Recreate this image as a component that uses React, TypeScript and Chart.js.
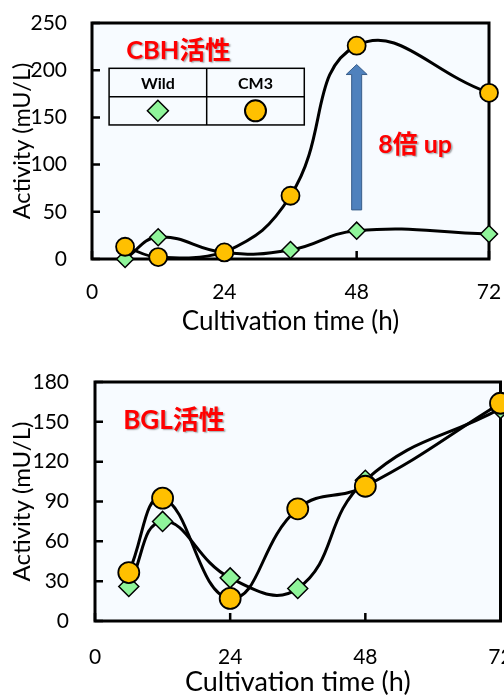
import React, { useEffect, useRef } from "react";
import { Chart, registerables } from "chart.js";

Chart.register(...registerables);

// ---- data ----
const hours = [6, 12, 24, 36, 48, 72];
const xTicks = [0, 24, 48, 72];

const cbhWild = [0, 23, 7, 9.5, 30, 26.5];
const cbhCM3 = [13, 2, 7, 67, 226, 176];
const cbhTicks = [0, 50, 100, 150, 200, 250];

const bglWild = [26, 75, 32.5, 24.5, 106, 160];
const bglCM3 = [36.5, 92.5, 17, 84.5, 101.5, 164];
const bglTicks = [0, 30, 60, 90, 120, 150, 180];

const seriesNames = ["Wild", "CM3"];
const cbhTitle = "CBH活性";
const bglTitle = "BGL活性";
const upLabel = "8倍 up";

const xTitle = "Cultivation time (h)";
const yTitle = "Activity (mU/L)";

const FONT = "Lato, 'Noto Sans CJK JP', sans-serif";
const TITLE_FONT = "Lato, 'Noto Sans CJK JP', sans-serif";
const GOLD = "#FFC000";
const GREEN = "#8FF59A";

type Layout = {
  padTop: number;
  padRight: number;
  yWidth: number;
  xHeight: number;
  yLabelPad: number;
  xLabelPad: number;
  yTitlePad: number;
  xTitlePadBottom: number;
  circleR: number;
  diamondR: number;
  tickFont: number;
  xTitleFont: number;
  yTitleFont: number;
};

function makeChart(
  canvas: HTMLCanvasElement,
  wild: number[],
  cm3: number[],
  yTicks: number[],
  L: Layout,
  annotate: (chart: any) => void
) {
  const pts = (arr: number[]) => hours.map((x, i) => ({ x, y: arr[i] }));
  const frame = {
    id: "frame",
    beforeDraw(chart: any) {
      const { ctx, chartArea: a } = chart;
      ctx.save();
      ctx.fillStyle = "#F7FBFF";
      ctx.fillRect(a.left, a.top, a.right - a.left, a.bottom - a.top);
      ctx.restore();
    },
    beforeDatasetsDraw(chart: any) {
      const { ctx, chartArea: a, scales } = chart;
      ctx.save();
      ctx.strokeStyle = "#000";
      ctx.lineWidth = 3;
      ctx.strokeRect(a.left, a.top, a.right - a.left, a.bottom - a.top);
      ctx.lineWidth = 2.5;
      ctx.beginPath();
      yTicks.forEach((v) => {
        const y = scales.y.getPixelForValue(v);
        ctx.moveTo(a.left, y);
        ctx.lineTo(a.left + 8, y);
      });
      xTicks.forEach((v) => {
        const x = scales.x.getPixelForValue(v);
        ctx.moveTo(x, a.bottom);
        ctx.lineTo(x, a.bottom - 8);
      });
      ctx.stroke();
      ctx.restore();
    },
    afterDraw(chart: any) {
      annotate(chart);
    },
  };

  return new Chart(canvas, {
    type: "line",
    data: {
      datasets: [
        {
          label: seriesNames[1],
          data: pts(cm3),
          borderColor: "#000",
          borderWidth: 3,
          tension: 0.45,
          pointStyle: "circle",
          pointRadius: L.circleR,
          pointBackgroundColor: GOLD,
          pointBorderColor: "#000",
          pointBorderWidth: 1.8,
          clip: false as any,
          order: 0,
        },
        {
          label: seriesNames[0],
          data: pts(wild),
          borderColor: "#000",
          borderWidth: 3,
          tension: 0.45,
          pointStyle: "rectRot",
          pointRadius: L.diamondR,
          pointBackgroundColor: GREEN,
          pointBorderColor: "#000",
          pointBorderWidth: 1.5,
          clip: false as any,
          order: 1,
        },
      ],
    },
    options: {
      responsive: false,
      animation: false,
      layout: { padding: { left: 0, top: L.padTop, right: L.padRight, bottom: 0 } },
      plugins: { legend: { display: false }, tooltip: { enabled: false } },
      scales: {
        x: {
          type: "linear",
          min: 0,
          max: 72,
          afterBuildTicks: (s: any) => {
            s.ticks = xTicks.map((v) => ({ value: v }));
          },
          afterFit: (s: any) => {
            s.height = L.xHeight;
            s.paddingLeft = 0;
            s.paddingRight = 0;
          },
          grid: { display: false, drawTicks: false },
          border: { display: false },
          ticks: {
            padding: L.xLabelPad,
            color: "#000",
            font: { family: FONT, size: L.tickFont },
            maxRotation: 0,
            autoSkip: false,
          },
          title: {
            display: true,
            text: xTitle,
            color: "#000",
            font: { family: FONT, size: L.xTitleFont },
            padding: { top: 0, bottom: L.xTitlePadBottom },
          },
        },
        y: {
          type: "linear",
          min: yTicks[0],
          max: yTicks[yTicks.length - 1],
          afterBuildTicks: (s: any) => {
            s.ticks = yTicks.map((v) => ({ value: v }));
          },
          afterFit: (s: any) => {
            s.width = L.yWidth;
            s.paddingTop = 0;
            s.paddingBottom = 0;
          },
          grid: { display: false, drawTicks: false },
          border: { display: false },
          ticks: {
            padding: L.yLabelPad,
            color: "#000",
            font: { family: FONT, size: L.tickFont },
            autoSkip: false,
          },
          title: {
            display: true,
            text: yTitle,
            color: "#000",
            font: { family: FONT, size: L.yTitleFont },
            padding: { top: L.yTitlePad, bottom: 0 },
          },
        },
      },
    },
    plugins: [frame],
  } as any);
}

function redText(ctx: CanvasRenderingContext2D, text: string, x: number, y: number, size: number) {
  ctx.save();
  ctx.font = `bold ${size}px ${TITLE_FONT}`;
  ctx.textAlign = "left";
  ctx.textBaseline = "middle";
  ctx.shadowColor = "rgba(0,0,0,0.35)";
  ctx.shadowOffsetX = 1.5;
  ctx.shadowOffsetY = 1.5;
  ctx.shadowBlur = 1.5;
  ctx.fillStyle = "#FF0000";
  ctx.fillText(text, x, y);
  ctx.restore();
}

// annotation anchors in data units
const cbhTitleAt = { x: 6.2, y: 221 };
const upArrow = { x: 48, from: 52, to: 206 };
const upLabelAt = { x: 51.9, y: 121 };
const tableBox = { x0: 3.1, x1: 38.5, yTop: 202, yMid: 172, yBot: 142 };
const bglTitleAt = { x: 5, y: 151 };

export default function App() {
  const ref1 = useRef<HTMLCanvasElement>(null);
  const ref2 = useRef<HTMLCanvasElement>(null);

  useEffect(() => {
    const L1: Layout = {
      padTop: 23, padRight: 15, yWidth: 92, xHeight: 81,
      yLabelPad: 25, xLabelPad: 21, yTitlePad: 8, xTitlePadBottom: 3,
      circleR: 9, diamondR: 8.5, tickFont: 21, xTitleFont: 26, yTitleFont: 23.5,
    };
    // canvas 2 is wider than the page (clipped by the wrapper) so its plot can reach the edge
    const L2: Layout = {
      padTop: 42, padRight: 15.5, yWidth: 95, xHeight: 75,
      yLabelPad: 26, xLabelPad: 24, yTitlePad: 8, xTitlePadBottom: -2,
      circleR: 10.5, diamondR: 10, tickFont: 21, xTitleFont: 27, yTitleFont: 24,
    };

    const c1 = makeChart(ref1.current!, cbhWild, cbhCM3, cbhTicks, L1, (chart: any) => {
      const { ctx, scales } = chart;
      const X = (v: number) => scales.x.getPixelForValue(v);
      const Y = (v: number) => scales.y.getPixelForValue(v);
      redText(ctx, cbhTitle, X(cbhTitleAt.x), Y(cbhTitleAt.y), 25.5);
      // arrow
      const ax = X(upArrow.x);
      const yb = Y(upArrow.from);
      const yt = Y(upArrow.to);
      const shaft = 5, head = 10.5, headH = 10;
      ctx.save();
      ctx.beginPath();
      ctx.moveTo(ax - shaft, yb);
      ctx.lineTo(ax - shaft, yt + headH);
      ctx.lineTo(ax - head, yt + headH);
      ctx.lineTo(ax, yt);
      ctx.lineTo(ax + head, yt + headH);
      ctx.lineTo(ax + shaft, yt + headH);
      ctx.lineTo(ax + shaft, yb);
      ctx.closePath();
      ctx.fillStyle = "#4F81BD";
      ctx.fill();
      ctx.strokeStyle = "#385D8A";
      ctx.lineWidth = 1;
      ctx.stroke();
      ctx.restore();
      redText(ctx, upLabel, X(upLabelAt.x), Y(upLabelAt.y), 25);
      // legend table
      const x0 = X(tableBox.x0), x1 = X(tableBox.x1);
      const xm = (x0 + x1) / 2;
      const y0 = Y(tableBox.yTop), ym = Y(tableBox.yMid), y1 = Y(tableBox.yBot);
      ctx.save();
      ctx.strokeStyle = "#000";
      ctx.lineWidth = 1.5;
      ctx.strokeRect(x0, y0, x1 - x0, y1 - y0);
      ctx.beginPath();
      ctx.moveTo(x0, ym); ctx.lineTo(x1, ym);
      ctx.moveTo(xm, y0); ctx.lineTo(xm, y1);
      ctx.stroke();
      ctx.font = `bold 16px ${FONT}`;
      ctx.fillStyle = "#000";
      ctx.textAlign = "center";
      ctx.textBaseline = "middle";
      const c1x = (x0 + xm) / 2, c2x = (xm + x1) / 2;
      ctx.fillText(seriesNames[0], c1x, (y0 + ym) / 2 + 1);
      ctx.fillText(seriesNames[1], c2x, (y0 + ym) / 2 + 1);
      const cy = (ym + y1) / 2;
      // diamond
      ctx.beginPath();
      ctx.moveTo(c1x - 10.5, cy); ctx.lineTo(c1x, cy - 10.5);
      ctx.lineTo(c1x + 10.5, cy); ctx.lineTo(c1x, cy + 10.5);
      ctx.closePath();
      ctx.fillStyle = GREEN; ctx.fill();
      ctx.lineWidth = 1.5; ctx.stroke();
      // circle
      ctx.beginPath();
      ctx.arc(c2x, cy, 10.5, 0, Math.PI * 2);
      ctx.fillStyle = GOLD; ctx.fill();
      ctx.lineWidth = 2; ctx.stroke();
      ctx.restore();
    });

    const c2 = makeChart(ref2.current!, bglWild, bglCM3, bglTicks, L2, (chart: any) => {
      const { ctx, scales } = chart;
      redText(ctx, bglTitle, scales.x.getPixelForValue(bglTitleAt.x), scales.y.getPixelForValue(bglTitleAt.y), 26);
    });

    return () => {
      c1.destroy();
      c2.destroy();
    };
  }, []);

  return (
    <div style={{ position: "absolute", left: 0, top: 0, width: 504, height: 696, background: "#fff", overflow: "hidden" }}>
      <canvas ref={ref1} width={504} height={340} style={{ position: "absolute", left: 0, top: 0 }} />
      <canvas ref={ref2} width={516} height={356} style={{ position: "absolute", left: 0, top: 340 }} />
    </div>
  );
}
